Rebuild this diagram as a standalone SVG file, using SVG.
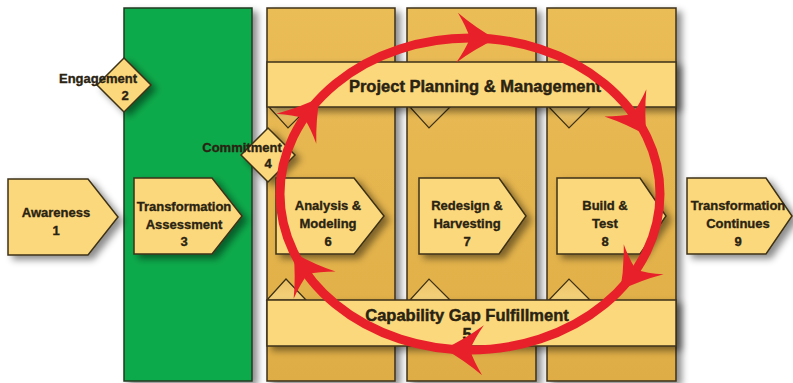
<svg xmlns="http://www.w3.org/2000/svg" xmlns:xlink="http://www.w3.org/1999/xlink" width="793" height="383" viewBox="0 0 793 383">
<defs>
<filter id="sh" x="-20%" y="-20%" width="150%" height="150%">
<feDropShadow dx="5" dy="4" stdDeviation="3.5" flood-color="#000" flood-opacity="0.45"/>
</filter>
<linearGradient id="colg" x1="0" y1="0" x2="0" y2="1">
<stop offset="0" stop-color="#ebbd57"/>
<stop offset="1" stop-color="#dfad45"/>
</linearGradient>
<linearGradient id="trid" x1="0" y1="0" x2="0" y2="1">
<stop offset="0" stop-color="#f6d37c"/>
<stop offset="1" stop-color="#d7a646"/>
</linearGradient>
<linearGradient id="triu" x1="0" y1="1" x2="0" y2="0">
<stop offset="0" stop-color="#f6d37c"/>
<stop offset="1" stop-color="#e9c066"/>
</linearGradient>
<path id="ah" d="M3,0 Q-17,-10 -36,-25 Q-27,-11 -23,0 Q-27,11 -36,25 Q-17,10 3,0 Z"/>
<style>
.col{fill:url(#colg);stroke:#3d3117;stroke-width:1.5;filter:url(#sh)}
.green{fill:#0faa4b;stroke:#1f3a1f;stroke-width:1.5;filter:url(#sh)}
.band{fill:#fcd87b;stroke:#3d3117;stroke-width:1.5;filter:url(#sh)}
.pent{fill:#fcd87b;stroke:#3d3117;stroke-width:1.5;filter:url(#sh)}
.tri{stroke:#3d3117;stroke-width:1.2}
.t{font-family:"Liberation Sans",Arial,sans-serif;font-weight:bold;fill:#2a2312;stroke:#2a2312;stroke-width:0.35;text-anchor:middle;font-size:13px}
.tb{font-size:16.5px;stroke-width:0.45}
.loop{fill:none;stroke:#e8202a;stroke-width:9}
.head{fill:#e8202a}
</style>
</defs>

<g id="columns">
<g id="col-green"><rect class="green" x="124" y="8" width="128" height="373"/></g>
<g id="col-1"><rect class="col" x="267" y="8" width="128" height="373"/></g>
<g id="col-2"><rect class="col" x="407" y="8" width="129" height="373"/></g>
<g id="col-3"><rect class="col" x="547" y="8" width="129" height="373"/></g>
</g>

<g id="triangles">
<path class="tri" fill="url(#trid)" d="M269,107 L309,107 L288,128 Z"/>
<path class="tri" fill="url(#trid)" d="M410,107 L450,107 L429,128 Z"/>
<path class="tri" fill="url(#trid)" d="M549,107 L590,107 L569,128 Z"/>
<path class="tri" fill="url(#triu)" d="M267,300 L306,300 L286,279 Z"/>
<path class="tri" fill="url(#triu)" d="M410,300 L450,300 L429,279 Z"/>
<path class="tri" fill="url(#triu)" d="M549,300 L590,300 L569,279 Z"/>
</g>

<g id="band-planning">
<rect class="band" x="267" y="62" width="409" height="45"/>
<text class="t tb" x="475" y="92">Project Planning &amp; Management</text>
</g>

<g id="band-capability">
<rect class="band" x="267" y="300" width="409" height="46"/>
<text class="t tb" x="467" y="321">Capability Gap Fulfillment</text>
<text class="t tb" x="467" y="340">5</text>
</g>

<g id="n1">
<path class="pent" d="M8,179 H88 L118,217 L88,255 H8 Z"/>
<text class="t" x="56" y="217">Awareness</text>
<text class="t" x="56" y="235">1</text>
</g>

<g id="n2">
<path class="pent" d="M124,58 L151,85 L124,112 L97,85 Z"/>
<text class="t" x="98" y="83">Engagement</text>
<text class="t" x="125" y="100">2</text>
</g>

<g id="n3">
<path class="pent" d="M134,178 H212 L242,216 L212,254 H134 Z"/>
<text class="t" x="184" y="211">Transformation</text>
<text class="t" x="184" y="229">Assessment</text>
<text class="t" x="184" y="246">3</text>
</g>

<g id="n4">
<path class="pent" d="M268,128 L295,155 L268,182 L241,155 Z"/>
<text class="t" x="242" y="152">Commitment</text>
<text class="t" x="268" y="168">4</text>
</g>

<g id="n6">
<path class="pent" d="M276,178 H354 L384,216 L354,254 H276 Z"/>
<text class="t" x="328" y="210">Analysis &amp;</text>
<text class="t" x="328" y="228">Modeling</text>
<text class="t" x="328" y="246">6</text>
</g>

<g id="n7">
<path class="pent" d="M419,178 H499 L526,216 L499,254 H419 Z"/>
<text class="t" x="467" y="210">Redesign &amp;</text>
<text class="t" x="467" y="228">Harvesting</text>
<text class="t" x="467" y="246">7</text>
</g>

<g id="n8">
<path class="pent" d="M557,178 H640 L666,216 L640,254 H557 Z"/>
<text class="t" x="605" y="210">Build &amp;</text>
<text class="t" x="605" y="228">Test</text>
<text class="t" x="605" y="246">8</text>
</g>

<g id="n9">
<path class="pent" d="M687,178 H766 L792,216 L766,254 H687 Z"/>
<text class="t" x="738" y="210">Transformation</text>
<text class="t" x="738" y="228">Continues</text>
<text class="t" x="738" y="246">9</text>
</g>

<g id="connectors">
<ellipse class="loop" cx="470" cy="194" rx="190" ry="156"/>
<use class="head" xlink:href="#ah" transform="translate(493,39) rotate(2)"/>
<use class="head" xlink:href="#ah" transform="translate(645,133) rotate(57)"/>
<use class="head" xlink:href="#ah" transform="translate(622,288) rotate(127)"/>
<use class="head" xlink:href="#ah" transform="translate(447,349) rotate(182)"/>
<use class="head" xlink:href="#ah" transform="translate(295,255) rotate(237)"/>
<use class="head" xlink:href="#ah" transform="translate(318,100) rotate(307)"/>
</g>
</svg>
